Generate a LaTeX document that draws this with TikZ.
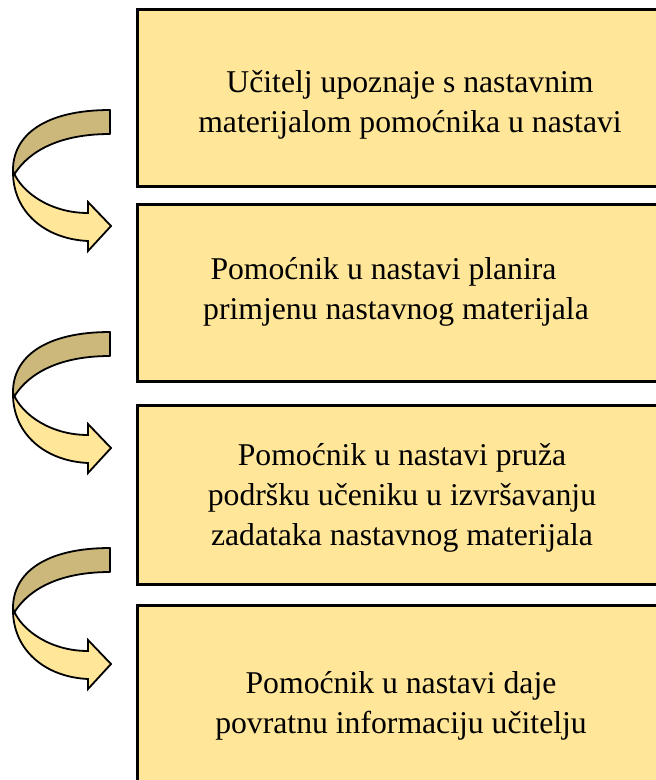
\documentclass[tikz,border=0pt]{standalone}
\usepackage{fontspec}
\setmainfont{Liberation Serif}
\definecolor{boxfill}{HTML}{FFE699}
\definecolor{backband}{HTML}{CCB87A}
\tikzset{
  stepbox/.style={draw=black, line width=2.6pt, fill=boxfill, anchor=north west, minimum width=600pt, inner sep=0pt},
  steptext/.style={anchor=base, inner sep=0pt, font=\fontsize{31.7}{40}\selectfont},
  bandback/.style={draw=black, line width=1.8pt, fill=backband, line join=round},
  bandfront/.style={draw=black, line width=1.8pt, fill=boxfill, line join=miter},
}
\newcommand\twistarrow[1]{%
  \begin{scope}[shift={(0,#1)}]
    \draw[bandback] (110,0) .. controls (45,0) and (13,25) .. (13,60) -- (14,65)
      .. controls (24,48) and (50,24) .. (110,24) -- cycle;
    \draw[bandfront] (14,63) .. controls (22,82) and (50,103) .. (88,103) -- (88,92)
      -- (111,116) -- (88,141) -- (88,131) .. controls (45,129) and (13,102) .. (13,62) -- cycle;
  \end{scope}}
\begin{document}
\begin{tikzpicture}[x=1pt, y=-1pt]
  \useasboundingbox (0,0) rectangle (656,780);
  \clip (0,0) rectangle (656,780);
  % boxes
  \node[stepbox, minimum height=177pt] (b1) at (136,8) {};
  \node[stepbox, minimum height=177pt] (b2) at (136,203) {};
  \node[stepbox, minimum height=179pt] (b3) at (136,404) {};
  \node[stepbox, minimum height=200pt] (b4) at (136,604) {};
  % texts
  \node[steptext] (t1a) at (410,92) {Učitelj upoznaje s nastavnim};
  \node[steptext] (t1b) at (410,132) {materijalom pomoćnika u nastavi};
  \node[steptext] (t2a) at (383.5,279) {Pomoćnik u nastavi planira};
  \node[steptext] (t2b) at (396,319) {primjenu nastavnog materijala};
  \node[steptext] (t3a) at (402,465) {Pomoćnik u nastavi pruža};
  \node[steptext] (t3b) at (402,505) {podršku učeniku u izvršavanju};
  \node[steptext] (t3c) at (402,545) {zadataka nastavnog materijala};
  \node[steptext] (t4a) at (401,693) {Pomoćnik u nastavi daje};
  \node[steptext] (t4b) at (401,733) {povratnu informaciju učitelju};
  % twisted arrows
  \twistarrow{110}
  \twistarrow{332}
  \twistarrow{548}
\end{tikzpicture}
\end{document}
